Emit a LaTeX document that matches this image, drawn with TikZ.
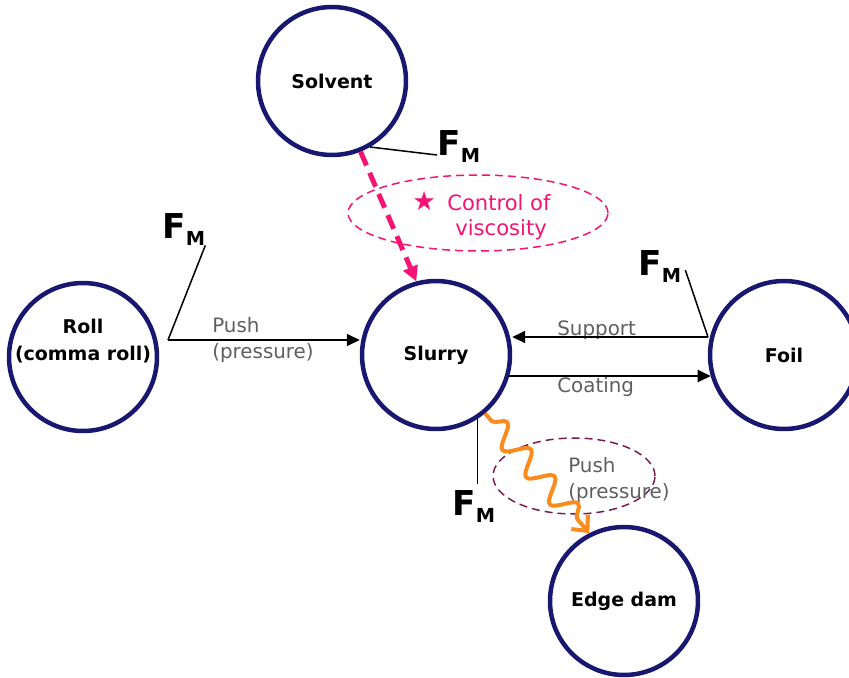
\documentclass[tikz,border=0pt]{standalone}
\usepackage{fontspec}
\setmainfont{DejaVu Sans}
\usetikzlibrary{arrows.meta,decorations.pathmorphing,shapes.geometric,calc}
\definecolor{navy}{RGB}{24,24,112}
\definecolor{pinkc}{RGB}{245,20,115}
\definecolor{orangec}{RGB}{250,140,30}
\definecolor{maroonc}{RGB}{120,30,80}
\definecolor{txtgray}{RGB}{95,95,95}
\tikzset{
 ball/.style={circle, draw=navy, line width=0.09cm, minimum size=2.96cm, inner sep=0pt, font=\bfseries\fontsize{10.8}{15}\selectfont, align=center},
 lbl/.style={inner sep=0pt, font=\bfseries\fontsize{10.8}{15.3}\selectfont, align=center},
 fm/.style={inner sep=0pt, font=\bfseries\fontsize{19.5}{20}\selectfont, anchor=base west},
 gtext/.style={text=txtgray, font=\fontsize{11.3}{14.9}\selectfont, inner sep=0pt, align=left},
 ptext/.style={text=pinkc, font=\fontsize{12}{14.2}\selectfont, inner sep=0pt, align=left},
 blk/.style={line width=0.04cm, -{Triangle[length=0.26cm,width=0.24cm]}},
 thinl/.style={line width=0.03cm},
}
\newcommand{\FMlabel}{F\raisebox{-4pt}{\fontsize{11}{11}\selectfont M}}
\begin{document}
\begin{tikzpicture}[x=0.02cm,y=-0.02cm]
\useasboundingbox (0,0) rectangle (849,677);
% dashed ellipses
\node[ellipse, draw=pinkc, line width=0.03cm, dash pattern=on 0.16cm off 0.1cm, minimum width=5.2cm, minimum height=1.52cm] (visc) at (478,213) {};
\node[ellipse, draw=maroonc, line width=0.03cm, dash pattern=on 0.16cm off 0.1cm, minimum width=3.24cm, minimum height=1.52cm] (pushell) at (574,476) {};
% circles
\node[ball] (solvent) at (332,81) {Solvent};
\node[ball] (roll) at (83,357) {};
\node[lbl] (rolltext) at (83,341) {Roll\\(comma roll)};
\node[ball] (slurry) at (436,355) {Slurry};
\node[ball] (foil) at (784,355) {Foil};
\node[ball] (edgedam) at (624,601) {Edge dam};
% F_M labels
\node[fm] (fm1) at (437,155) {\FMlabel};
\node[fm] (fm2) at (162,238) {\FMlabel};
\node[fm] (fm3) at (638,275) {\FMlabel};
\node[fm] (fm4) at (452,515) {\FMlabel};
% texts
\node[gtext, anchor=west] (pushtxt) at (212,340) {Push\\(pressure)};
\node[gtext, anchor=west] (supporttxt) at (557,330) {Support};
\node[gtext, anchor=west] (coatingtxt) at (557,387) {Coating};
\node[gtext, anchor=west] (push2txt) at (568,480) {Push\\(pressure)};
\node[ptext, anchor=west] (visctxt) at (412,216) {\makebox[0.7cm][l]{\fontsize{15}{14}\selectfont ★}Control of\\\hspace*{0.86cm}viscosity};
% connectors
\draw[thinl] (solvent.-60) -- (fm1.base west);
\coordinate (rollpt) at (168,340);
\draw[thinl] (fm2.south east) -- (rollpt);
\draw[blk] (rollpt) -- (rollpt -| slurry.west);
\coordinate (foilpt) at (708,337);
\draw[thinl] ($(fm3.east)+(4,4)$) -- (foilpt);
\draw[blk] (foilpt) -- (foilpt -| slurry.east);
\draw[blk] (slurry.-16) -- (foil.196);
\draw[thinl] (slurry.-57) -- ++(0,65);
\draw[pinkc, line width=0.1cm, dash pattern=on 0.3cm off 0.16cm, -{Triangle[length=0.3cm,width=0.3cm]}] (solvent.-68) -- (slurry.105);
\draw[orangec, line width=0.08cm, line join=round, decorate, decoration={snake, segment length=0.72cm, amplitude=0.22cm, pre length=0.2cm, post length=0.35cm}, -{Straight Barb[length=0.24cm,width=0.44cm]}] (slurry.-50) -- (edgedam.117);
\end{tikzpicture}
\end{document}
